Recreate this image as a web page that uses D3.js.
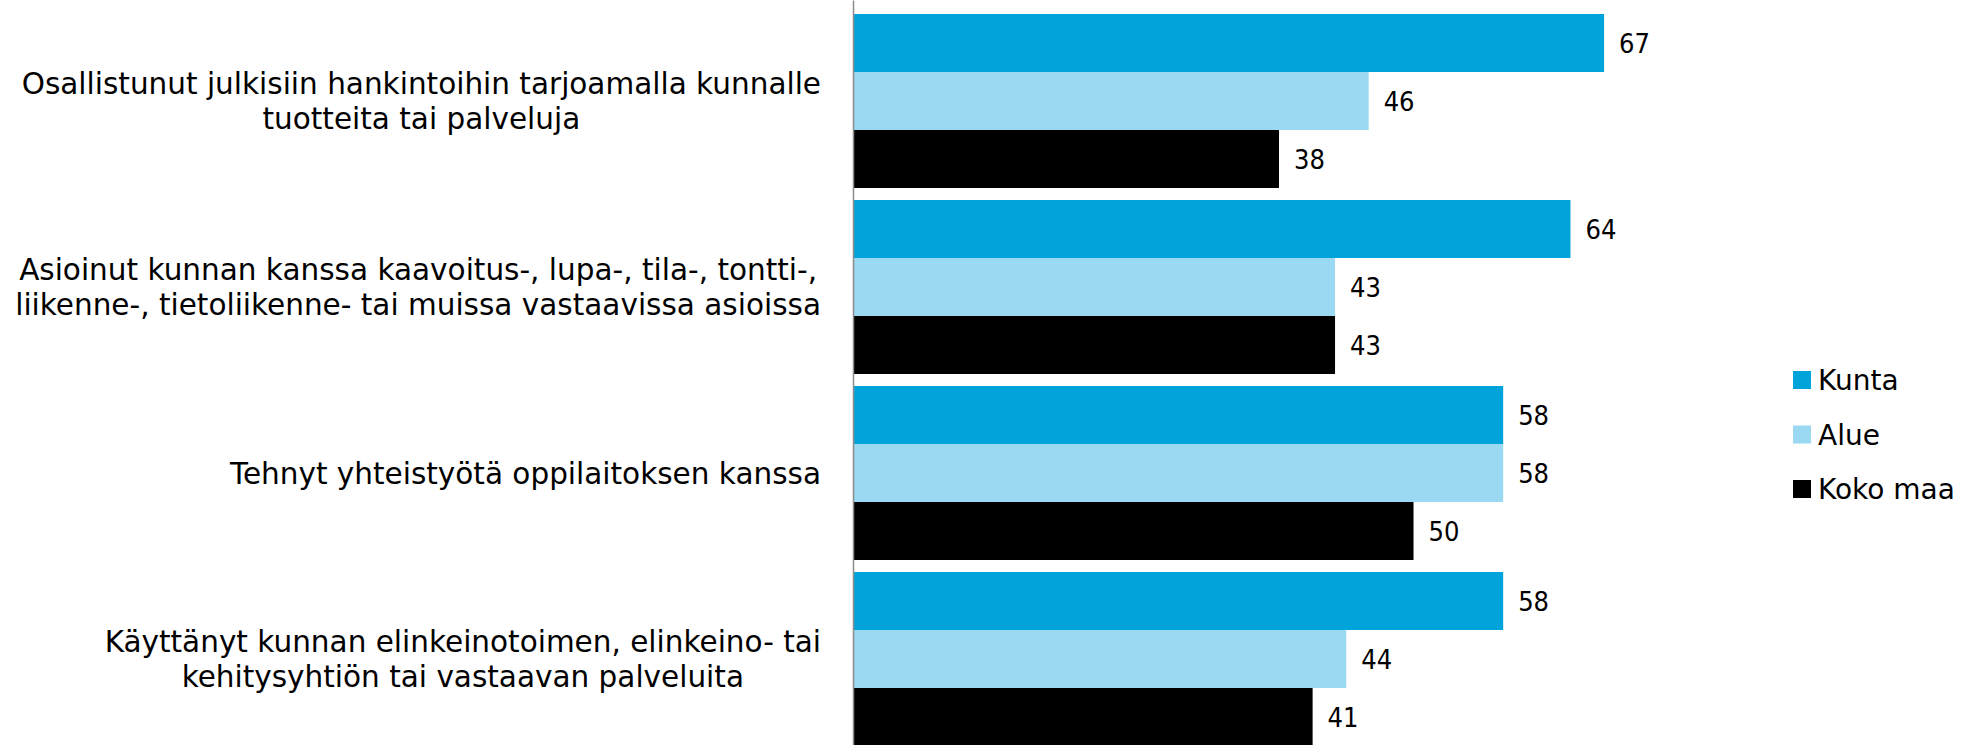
<!DOCTYPE html>
<html>
<head>
<meta charset="utf-8">
<script src="https://cdn.jsdelivr.net/npm/d3@7"></script>
<style>
    body { margin: 0; background: #fff; }
    text { font-family: "DejaVu Sans", sans-serif; fill: #000; }
    .value { font-family: "DejaVu Sans Condensed", "DejaVu Sans", sans-serif; }
</style>
</head>
<body>
<div id="chart"></div>
<script>
// ---- Data ----
const categories = [
    "Osallistunut julkisiin hankintoihin tarjoamalla kunnalle|tuotteita tai palveluja",
    "Asioinut kunnan kanssa kaavoitus-, lupa-, tila-, tontti-,|liikenne-, tietoliikenne- tai muissa vastaavissa asioissa",
    "Tehnyt yhteistyötä oppilaitoksen kanssa",
    "Käyttänyt kunnan elinkeinotoimen, elinkeino- tai|kehitysyhtiön tai vastaavan palveluita"
];
const seriesNames = ["Kunta", "Alue", "Koko maa"];
const kunta = [67, 64, 58, 58];
const alue = [46, 43, 58, 44];
const kokoMaa = [38, 43, 50, 41];

const seriesColors = {
    "Kunta": "#00a3da",
    "Alue": "#9ad9f1",
    "Koko maa": "#000000"
};

const width = 1975;
const height = 745;
const axisX = 853;

const rows = categories.map((c, i) => ({
    label: c,
    values: [
        { key: "Kunta", value: kunta[i] },
        { key: "Alue", value: alue[i] },
        { key: "Koko maa", value: kokoMaa[i] }
    ]
}));

// ---- Scales ----
const xScale = d3.scaleLinear()
    .domain([0, 100])
    .range([axisX, axisX + 1121]);

const yScale = d3.scaleBand()
    .domain(categories)
    .range([8, 752])
    .paddingInner(12 / 186)
    .paddingOuter(6 / 186);

const ySub = d3.scaleBand()
    .domain(seriesNames)
    .range([0, yScale.bandwidth()]);

const svg = d3.select("#chart")
    .append("svg")
    .attr("width", width)
    .attr("height", height);

// ---- Bars ----
const group = svg.selectAll(".group")
    .data(rows)
    .join("g")
    .attr("class", "group")
    .attr("transform", d => `translate(0,${yScale(d.label)})`);

group.selectAll("rect")
    .data(d => d.values)
    .join("rect")
    .attr("x", xScale(0))
    .attr("y", d => ySub(d.key))
    .attr("width", d => xScale(d.value) - xScale(0))
    .attr("height", ySub.bandwidth())
    .attr("fill", d => seriesColors[d.key]);

group.selectAll(".value")
    .data(d => d.values)
    .join("text")
    .attr("class", "value")
    .attr("x", d => xScale(d.value) + 15)
    .attr("y", d => ySub(d.key) + ySub.bandwidth() / 2)
    .attr("dy", "0.36em")
    .style("font-size", "27px")
    .text(d => d.value);

// ---- Axis line ----
svg.append("g")
    .attr("transform", `translate(${axisX},0)`)
    .call(d3.axisLeft(d3.scaleLinear().range([0, height])).ticks(0).tickSize(0))
    .call(g => g.select(".domain").attr("stroke", "#8c8c8c").attr("stroke-width", 1.5));

// ---- Category labels (block right aligned, lines centred) ----
const labelRight = 821;
const lineHeight = 35;

rows.forEach(row => {
    const lines = row.label.split("|");
    const cy = yScale(row.label) + yScale.bandwidth() / 2;
    const g = svg.append("g").attr("class", "cat-label");
    const texts = g.selectAll("text")
        .data(lines)
        .join("text")
        .attr("y", (d, i) => cy + (i - (lines.length - 1) / 2) * lineHeight)
        .attr("dy", "0.36em")
        .attr("text-anchor", "middle")
        .style("font-size", "29.5px")
        .text(d => d);
    let maxW = 0;
    texts.each(function() { maxW = Math.max(maxW, this.getComputedTextLength()); });
    texts.attr("x", labelRight - maxW / 2);
});

// ---- Legend ----
const legend = svg.append("g")
    .attr("class", "legend")
    .attr("transform", "translate(1793, 371)");

const legendItem = legend.selectAll(".legend-item")
    .data(seriesNames)
    .join("g")
    .attr("class", "legend-item")
    .attr("transform", (d, i) => `translate(0, ${i * 54.5})`);

legendItem.append("rect")
    .attr("width", 18)
    .attr("height", 18)
    .attr("fill", d => seriesColors[d]);

legendItem.append("text")
    .attr("x", 25)
    .attr("y", 9)
    .attr("dy", "0.36em")
    .style("font-size", "28px")
    .text(d => d);
</script>
</body>
</html>
